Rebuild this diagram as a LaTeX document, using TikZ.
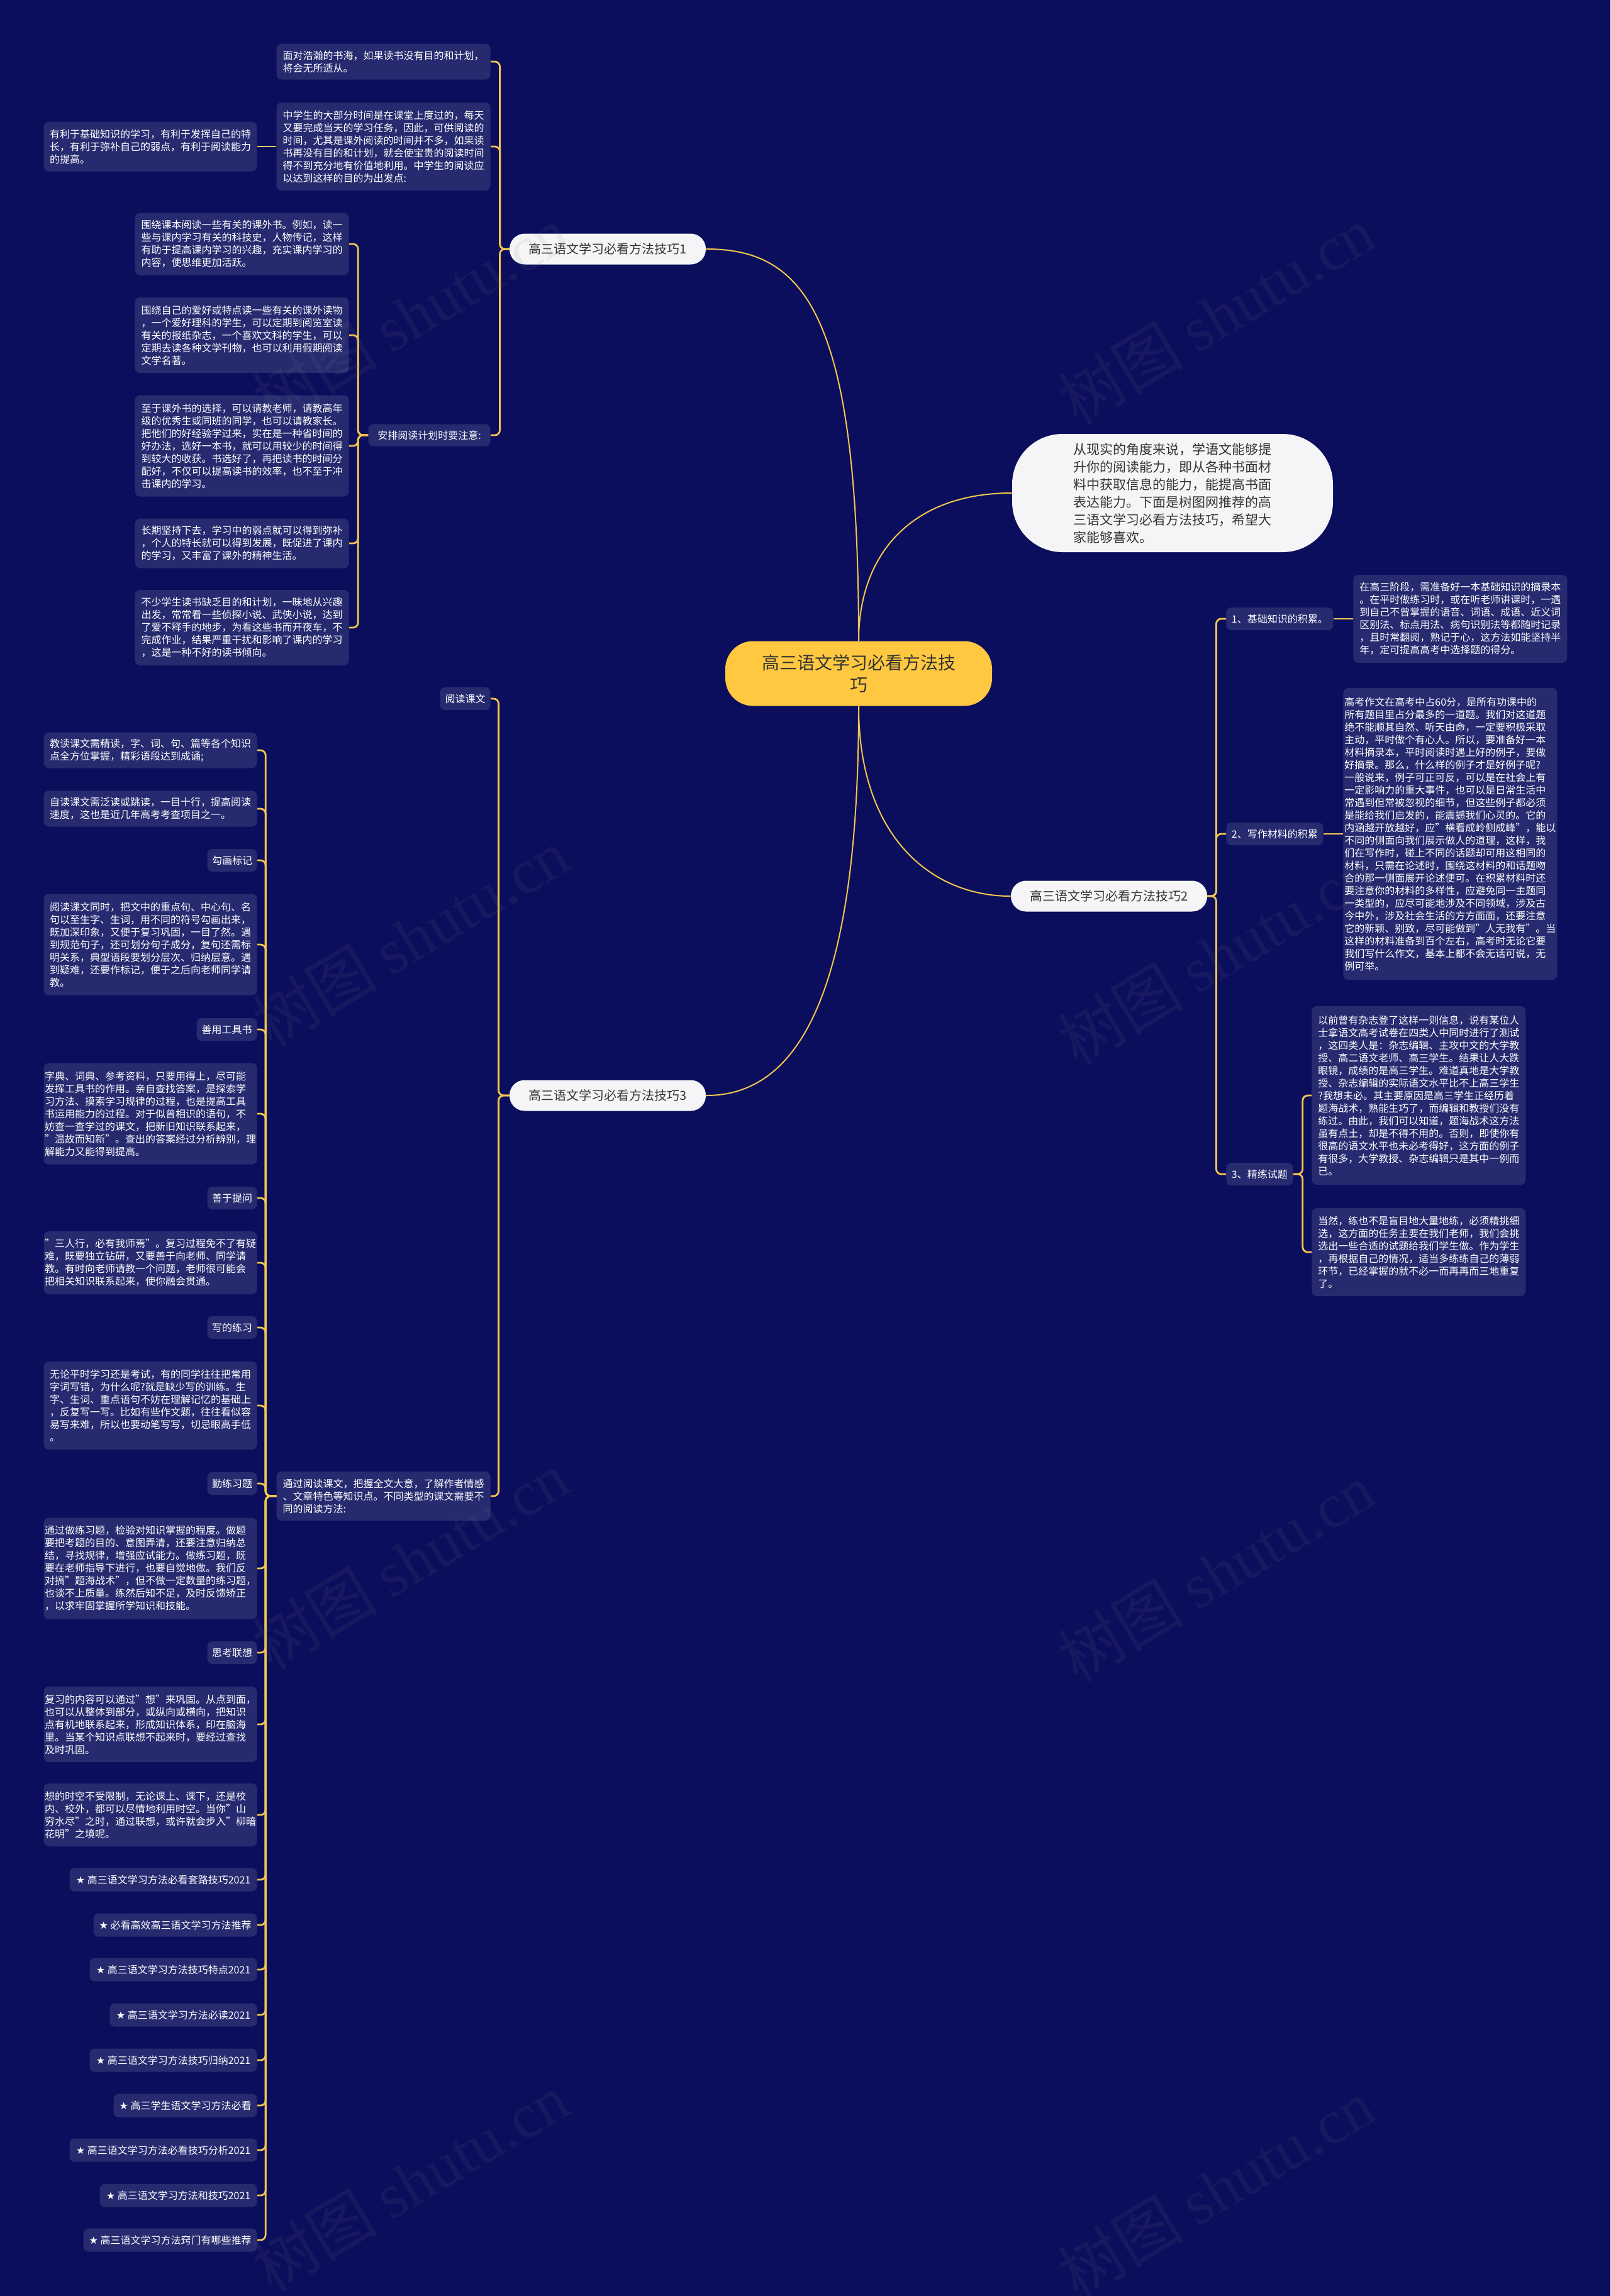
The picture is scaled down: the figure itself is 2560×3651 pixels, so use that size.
\documentclass[tikz,border=0pt]{standalone}
\usepackage{fontspec}
\setmainfont{Noto Sans CJK SC}
\newfontfamily\djv{DejaVu Sans}
\newfontfamily\wmserif{Liberation Serif}
\definecolor{bg}{RGB}{11,14,92}
\definecolor{boxc}{RGB}{38,43,112}
\definecolor{linec}{RGB}{244,198,78}
\definecolor{rootc}{RGB}{255,200,64}
\definecolor{darktext}{RGB}{51,51,51}
\definecolor{pillc}{RGB}{245,245,247}
\tikzset{
  sbox/.style={fill=boxc, text=white, rounded corners=4pt, inner sep=0pt, align=left, font=\fontsize{8}{10}\selectfont},
  pill/.style={fill=pillc, text=darktext, rounded corners=12pt, inner sep=0pt, font=\fontsize{10}{12}\selectfont, minimum width=156pt, minimum height=24.5pt},
  conn/.style={draw=linec, line width=1.4pt, rounded corners=4pt},
  mconn/.style={draw=linec, line width=1pt},
  wm/.style={text=gray, opacity=0.1, font=\fontsize{50}{50}\selectfont, rotate=31},
}
\newcommand\lb[6]{\node[sbox, anchor=east, minimum width=#4*0.5pt, minimum height=#5*0.5pt] (#1) at (#2,#3) {#6};}
\newcommand\rb[6]{\node[sbox, anchor=west, minimum width=#4*0.5pt, minimum height=#5*0.5pt] (#1) at (#2,#3) {#6};}
\newcommand\st{{\djv ★} }
\begin{document}
\begin{tikzpicture}[x=0.5pt, y=-0.5pt]
\path[use as bounding box, fill=bg] (0,0) rectangle (2560,3651);

% root and main branches
\node[fill=rootc, text=darktext, rounded corners=22pt, minimum width=212pt, minimum height=51.5pt, align=center, inner sep=0pt, font=\fontsize{14}{17.5}\selectfont] (root) at (1365,1071) {高三语文学习必看方法技\\巧};
\node[fill=pillc, text=darktext, rounded corners=40pt, minimum width=255pt, minimum height=94pt, align=left, inner sep=0pt, font=\fontsize{10.5}{14}\selectfont] (intro) at (1864,784) {从现实的角度来说，学语文能够提\\升你的阅读能力，即从各种书面材\\料中获取信息的能力，能提高书面\\表达能力。下面是树图网推荐的高\\三语文学习必看方法技巧，希望大\\家能够喜欢。};
\node[pill] (br1) at (966,396) {高三语文学习必看方法技巧1};
\node[pill] (br2) at (1763,1425) {高三语文学习必看方法技巧2};
\node[pill] (br3) at (966,1742) {高三语文学习必看方法技巧3};

% branch 1
\lb{a1}{780}{98}{340}{57}{面对浩瀚的书海，如果读书没有目的和计划，\\将会无所适从。}
\lb{a2}{780}{233}{340}{140}{中学生的大部分时间是在课堂上度过的，每天\\又要完成当天的学习任务，因此，可供阅读的\\时间，尤其是课外阅读的时间并不多，如果读\\书再没有目的和计划，就会使宝贵的阅读时间\\得不到充分地有价值地利用。中学生的阅读应\\以达到这样的目的为出发点:}
\lb{a3}{780}{692}{194}{35}{安排阅读计划时要注意:}
\lb{c1}{409}{233}{339}{79}{有利于基础知识的学习，有利于发挥自己的特\\长，有利于弥补自己的弱点，有利于阅读能力\\的提高。}
\lb{d1}{555}{388}{340}{99}{围绕课本阅读一些有关的课外书。例如，读一\\些与课内学习有关的科技史，人物传记，这样\\有助于提高课内学习的兴趣，充实课内学习的\\内容，使思维更加活跃。}
\lb{d2}{555}{533}{340}{120}{围绕自己的爱好或特点读一些有关的课外读物\\，一个爱好理科的学生，可以定期到阅览室读\\有关的报纸杂志，一个喜欢文科的学生，可以\\定期去读各种文学刊物，也可以利用假期阅读\\文学名著。}
\lb{d3}{555}{709}{340}{161}{至于课外书的选择，可以请教老师，请教高年\\级的优秀生或同班的同学，也可以请教家长。\\把他们的好经验学过来，实在是一种省时间的\\好办法，选好一本书，就可以用较少的时间得\\到较大的收获。书选好了，再把读书的时间分\\配好，不仅可以提高读书的效率，也不至于冲\\击课内的学习。}
\lb{d4}{555}{864}{340}{79}{长期坚持下去，学习中的弱点就可以得到弥补\\，个人的特长就可以得到发展，既促进了课内\\的学习，又丰富了课外的精神生活。}
\lb{d5}{555}{998}{340}{120}{不少学生读书缺乏目的和计划，一昧地从兴趣\\出发，常常看一些侦探小说、武侠小说，达到\\了爱不释手的地步，为看这些书而开夜车，不\\完成作业，结果严重干扰和影响了课内的学习\\，这是一种不好的读书倾向。}

% branch 2
\rb{r1}{1949}{984}{170}{36}{1、基础知识的积累。}
\rb{r1b}{2151}{984}{340}{140}{在高三阶段，需准备好一本基础知识的摘录本\\。在平时做练习时，或在听老师讲课时，一遇\\到自己不曾掌握的语音、词语、成语、近义词\\区别法、标点用法、病句识别法等都随时记录\\，且时常翻阅，熟记于心，这方法如能坚持半\\年，定可提高高考中选择题的得分。}
\rb{r2}{1949}{1326}{154}{36}{2、写作材料的积累}
\rb{r2b}{2135}{1326}{340}{464}{高考作文在高考中占60分，是所有功课中的\\所有题目里占分最多的一道题。我们对这道题\\绝不能顺其自然、听天由命，一定要积极采取\\主动，平时做个有心人。所以，要准备好一本\\材料摘录本，平时阅读时遇上好的例子，要做\\好摘录。那么，什么样的例子才是好例子呢?\\一般说来，例子可正可反，可以是在社会上有\\一定影响力的重大事件，也可以是日常生活中\\常遇到但常被忽视的细节，但这些例子都必须\\是能给我们启发的，能震撼我们心灵的。它的\\内涵越开放越好，应"横看成岭侧成峰"，能以\\不同的侧面向我们展示做人的道理，这样，我\\们在写作时，碰上不同的话题却可用这相同的\\材料，只需在论述时，围绕这材料的和话题吻\\合的那一侧面展开论述便可。在积累材料时还\\要注意你的材料的多样性，应避免同一主题同\\一类型的，应尽可能地涉及不同领域，涉及古\\今中外，涉及社会生活的方方面面，还要注意\\它的新颖、别致，尽可能做到"人无我有"。当\\这样的材料准备到百个左右，高考时无论它要\\我们写什么作文，基本上都不会无话可说，无\\例可举。}
\rb{r3}{1949}{1867}{106}{36}{3、精练试题}
\rb{r3a}{2085}{1742}{340}{284}{以前曾有杂志登了这样一则信息，说有某位人\\士拿语文高考试卷在四类人中同时进行了测试\\，这四类人是：杂志编辑、主攻中文的大学教\\授、高二语文老师、高三学生。结果让人大跌\\眼镜，成绩的是高三学生。难道真地是大学教\\授、杂志编辑的实际语文水平比不上高三学生\\?我想未必。其主要原因是高三学生正经历着\\题海战术，熟能生巧了，而编辑和教授们没有\\练过。由此，我们可以知道，题海战术这方法\\虽有点土，却是不得不用的。否则，即使你有\\很高的语文水平也未必考得好，这方面的例子\\有很多，大学教授、杂志编辑只是其中一例而\\已。}
\rb{r3b}{2085}{1991}{340}{140}{当然，练也不是盲目地大量地练，必须精挑细\\选，这方面的任务主要在我们老师，我们会挑\\选出一些合适的试题给我们学生做。作为学生\\，再根据自己的情况，适当多练练自己的薄弱\\环节，已经掌握的就不必一而再再而三地重复\\了。}

% branch 3
\lb{b1}{780}{1111}{80}{36}{阅读课文}
\lb{b2}{780}{2379}{340}{78}{通过阅读课文，把握全文大意，了解作者情感\\、文章特色等知识点。不同类型的课文需要不\\同的阅读方法:}
\lb{e1}{409}{1193}{339}{57}{教读课文需精读，字、词、句、篇等各个知识\\点全方位掌握，精彩语段达到成诵;}
\lb{e2}{409}{1286}{339}{57}{自读课文需泛读或跳读，一目十行，提高阅读\\速度，这也是近几年高考考查项目之一。}
\lb{e3}{409}{1368}{79}{36}{勾画标记}
\lb{e4}{409}{1502}{339}{161}{阅读课文同时，把文中的重点句、中心句、名\\句以至生字、生词，用不同的符号勾画出来，\\既加深印象，又便于复习巩固，一目了然。遇\\到规范句子，还可划分句子成分，复句还需标\\明关系，典型语段要划分层次、归纳层意。遇\\到疑难，还要作标记，便于之后向老师同学请\\教。}
\lb{e5}{409}{1637}{96}{36}{善用工具书}
\lb{e6}{409}{1771}{339}{161}{字典、词典、参考资料，只要用得上，尽可能\\发挥工具书的作用。亲自查找答案，是探索学\\习方法、摸索学习规律的过程，也是提高工具\\书运用能力的过程。对于似曾相识的语句，不\\妨查一查学过的课文，把新旧知识联系起来，\\"温故而知新"。查出的答案经过分析辨别，理\\解能力又能得到提高。}
\lb{e7}{409}{1905}{79}{36}{善于提问}
\lb{e8}{409}{2008}{339}{100}{"三人行，必有我师焉"。复习过程免不了有疑\\难，既要独立钻研，又要善于向老师、同学请\\教。有时向老师请教一个问题，老师很可能会\\把相关知识联系起来，使你融会贯通。}
\lb{e9}{409}{2111}{79}{36}{写的练习}
\lb{e10}{409}{2235}{339}{140}{无论平时学习还是考试，有的同学往往把常用\\字词写错，为什么呢?就是缺少写的训练。生\\字、生词、重点语句不妨在理解记忆的基础上\\，反复写一写。比如有些作文题，往往看似容\\易写来难，所以也要动笔写写，切忌眼高手低\\。}
\lb{e11}{409}{2359}{79}{36}{勤练习题}
\lb{e12}{409}{2494}{339}{161}{通过做练习题，检验对知识掌握的程度。做题\\要把考题的目的、意图弄清，还要注意归纳总\\结，寻找规律，增强应试能力。做练习题，既\\要在老师指导下进行，也要自觉地做。我们反\\对搞"题海战术"，但不做一定数量的练习题，\\也谈不上质量。练然后知不足，及时反馈矫正\\，以求牢固掌握所学知识和技能。}
\lb{e13}{409}{2628}{79}{36}{思考联想}
\lb{e14}{409}{2742}{339}{120}{复习的内容可以通过"想"来巩固。从点到面，\\也可以从整体到部分，或纵向或横向，把知识\\点有机地联系起来，形成知识体系，印在脑海\\里。当某个知识点联想不起来时，要经过查找\\及时巩固。}
\lb{e15}{409}{2886}{339}{100}{想的时空不受限制，无论课上、课下，还是校\\内、校外，都可以尽情地利用时空。当你"山\\穷水尽"之时，通过联想，或许就会步入"柳暗\\花明"之境呢。}
\lb{e16}{409}{2989}{298}{37}{\st 高三语文学习方法必看套路技巧2021}
\lb{e17}{409}{3061}{260}{37}{\st 必看高效高三语文学习方法推荐}
\lb{e18}{409}{3132}{266}{37}{\st 高三语文学习方法技巧特点2021}
\lb{e19}{409}{3204}{234}{37}{\st 高三语文学习方法必读2021}
\lb{e20}{409}{3276}{266}{37}{\st 高三语文学习方法技巧归纳2021}
\lb{e21}{409}{3348}{228}{37}{\st 高三学生语文学习方法必看}
\lb{e22}{409}{3419}{298}{37}{\st 高三语文学习方法必看技巧分析2021}
\lb{e23}{409}{3491}{250}{37}{\st 高三语文学习方法和技巧2021}
\lb{e24}{409}{3562}{276}{37}{\st 高三语文学习方法窍门有哪些推荐}

% main curves
\draw[mconn] (root.north) .. controls (1365,500) and (1280,396) .. (br1.east);
\draw[mconn] (root.north) .. controls (1365,880) and (1450,784) .. (intro.west);
\draw[mconn] (root.south) .. controls (1365,1330) and (1480,1425) .. (br2.west);
\draw[mconn] (root.south) .. controls (1365,1600) and (1260,1742) .. (br3.east);

% branch 1 connectors
\foreach \c in {a1,a2,a3} \draw[conn] (br1.west) -- ++(-15,0) |- (\c.east);
\draw[conn] (a2.west) -- (c1.east);
\foreach \c in {d1,d2,d3,d4,d5} \draw[conn] (a3.west) -- ++(-16,0) |- (\c.east);

% branch 2 connectors
\foreach \c in {r1,r2,r3} \draw[conn] (br2.east) -- ++(14,0) |- (\c.west);
\draw[conn] (r1.east) -- (r1b.west);
\draw[conn] (r2.east) -- (r2b.west);
\foreach \c in {r3a,r3b} \draw[conn] (r3.east) -- ++(15,0) |- (\c.west);

% branch 3 connectors
\foreach \c in {b1,b2} \draw[conn] (br3.west) -- ++(-17,0) |- (\c.east);
\foreach \c in {e1,e2,e3,e4,e5,e6,e7,e8,e9,e10,e11,e12,e13,e14,e15,e16,e17,e18,e19,e20,e21,e22,e23,e24} \draw[conn] (b2.west) -- ++(-17,0) |- (\c.east);

% watermarks
\foreach \p [count=\i] in {(652,501),(1933,501),(652,1491),(1933,1520),(652,2481),(1933,2500),(652,3470),(1933,3480)}
  \node[wm] (wm\i) at \p {树图 {\wmserif shutu.cn}};
\end{tikzpicture}
\end{document}
